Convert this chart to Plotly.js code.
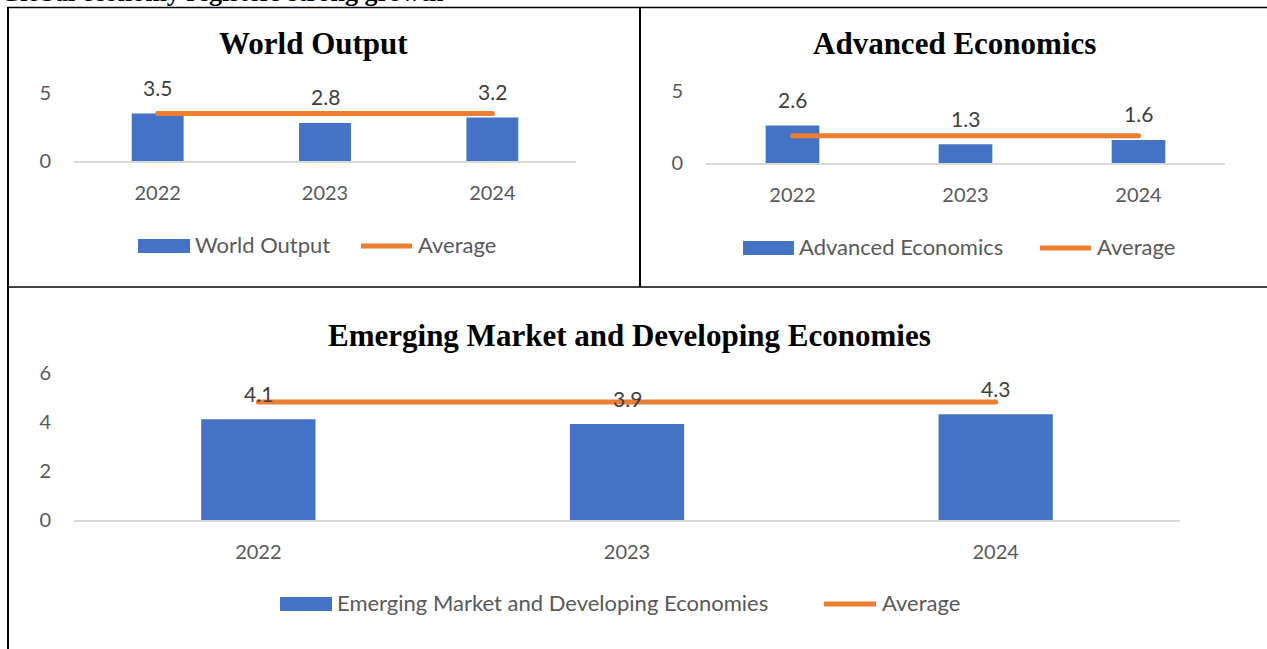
<!DOCTYPE html>
<html><head><meta charset="utf-8">
<script src="https://cdn.plot.ly/plotly-3.0.1.min.js"></script>
<style>
html,body{margin:0;padding:0;background:#fff;}
#wrap{position:relative;width:1267px;height:649px;overflow:hidden;}
#chart{position:absolute;left:0;top:0;width:1267px;height:649px;}
#sup{position:absolute;left:0;top:-20px;font-family:"Liberation Serif";font-weight:bold;font-size:26px;line-height:26px;white-space:nowrap;color:#000;}
path.js-line{stroke-linecap:round !important;}
</style></head>
<body><div id="wrap"><div id="sup">Global economy registers strong growth</div><div id="chart"></div></div>
<script>
// ---- data ----
const years = ['2022', '2023', '2024'];
const worldOutput = [3.5, 2.8, 3.2];
const worldAverage = [3.5, 3.5, 3.5];
const advancedEconomics = [2.6, 1.3, 1.6];
const advancedAverage = [1.9, 1.9, 1.9];
const emergingEconomies = [4.1, 3.9, 4.3];
const emergingAverage = [4.8, 4.8, 4.8];
const worldTicks = [0, 5];
const advancedTicks = [0, 5];
const emergingTicks = [0, 2, 4, 6];
const seriesNames = ['World Output', 'Advanced Economics', 'Emerging Market and Developing Economies'];
const averageName = 'Average';

// ---- layout geometry (page pixels) ----
const W = 1267, H = 649;
const fx = x => x / W, fy = y => 1 - y / H;
const BLUE = '#4472C4', ORANGE = '#ED7D31', TICK = '#595959', LABEL = '#404040';

const panels = [
  {name: seriesNames[0], vals: worldOutput, avg: worldAverage, ticks: worldTicks, grid: false,
   x0: 74, x1: 576, y0: 161, yTop: 93, tickTop: 5, rmax: 5.05,
   titleX: 313, titleY: 43, legY: 246, rect: [138, 190], t1: 195, line: [359, 414], t2: 418},
  {name: seriesNames[1], vals: advancedEconomics, avg: advancedAverage, ticks: advancedTicks, grid: true,
   x0: 706, x1: 1225, y0: 163, yTop: 91, tickTop: 5, rmax: 5.05,
   titleX: 954, titleY: 43, legY: 248, rect: [743, 794], t1: 799, line: [1038, 1093], t2: 1097},
  {name: seriesNames[2], vals: emergingEconomies, avg: emergingAverage, ticks: emergingTicks, grid: false,
   x0: 74, x1: 1180, y0: 520, yTop: 372.5, tickTop: 6, rmax: 6.05,
   titleX: 629, titleY: 335, legY: 604, rect: [280, 332], t1: 337, line: [822, 878], t2: 882}
];

const data = [];
const layout = {
  width: W, height: H, margin: {l: 0, r: 0, t: 0, b: 0},
  paper_bgcolor: 'rgba(0,0,0,0)', plot_bgcolor: 'rgba(0,0,0,0)',
  showlegend: false, bargap: 0.69,
  font: {family: 'Lato', color: TICK, size: 20},
  annotations: [], shapes: []
};

panels.forEach((p, i) => {
  const sfx = i === 0 ? '' : String(i + 1);
  const xa = 'x' + sfx, ya = 'y' + sfx;
  const ppu = (p.y0 - p.yTop) / p.tickTop;
  const topPx = p.y0 - p.rmax * ppu;
  layout['xaxis' + sfx] = {
    domain: [fx(p.x0), fx(p.x1)], anchor: ya, type: 'category',
    categoryorder: 'array', categoryarray: years, range: [-0.5, 2.5],
    showline: true, linecolor: '#D9D9D9', linewidth: 2, showgrid: false, zeroline: false,
    ticks: 'outside', ticklen: 13, tickcolor: 'rgba(0,0,0,0)',
    tickfont: {family: 'Lato', size: 20, color: TICK}, fixedrange: true
  };
  layout['yaxis' + sfx] = {
    domain: [fy(p.y0), fy(topPx)], anchor: xa, range: [0, p.rmax],
    tickmode: 'array', tickvals: p.ticks, ticktext: p.ticks.map(String),
    showgrid: p.grid, gridcolor: '#D9D9D9', gridwidth: 2, zeroline: false, showline: false,
    ticks: 'outside', ticklen: 18, tickcolor: 'rgba(0,0,0,0)',
    tickfont: {family: 'Lato', size: 20, color: TICK}, fixedrange: true
  };
  data.push({type: 'bar', name: p.name, x: years, y: p.vals, xaxis: xa, yaxis: ya,
    marker: {color: BLUE}, width: 0.31, hoverinfo: 'x+y'});
  data.push({type: 'scatter', mode: 'lines', name: averageName, x: years, y: p.avg, xaxis: xa, yaxis: ya,
    line: {color: ORANGE, width: 5}, hoverinfo: 'x+y'});
  // data labels (category index positions on the category axis)
  years.forEach((yr, k) => {
    layout.annotations.push({x: k, y: p.vals[k], xref: xa, yref: ya, text: p.vals[k].toFixed(1),
      showarrow: false, yshift: 26, xanchor: 'center', yanchor: 'middle',
      font: {family: 'Lato', size: 21, color: LABEL}});
  });
  // title
  layout.annotations.push({x: fx(p.titleX), y: fy(p.titleY), xref: 'paper', yref: 'paper', text: '<b>' + p.name + '</b>',
    showarrow: false, xanchor: 'center', yanchor: 'middle',
    font: {family: 'Liberation Serif', size: 31, color: '#000'}});
  // legend
  layout.shapes.push({type: 'rect', xref: 'paper', yref: 'paper', x0: fx(p.rect[0]), x1: fx(p.rect[1]),
    y0: fy(p.legY + 7), y1: fy(p.legY - 7), fillcolor: BLUE, line: {width: 0}});
  layout.shapes.push({type: 'line', xref: 'paper', yref: 'paper', x0: fx(p.line[0] + 2), x1: fx(p.line[1] - 2),
    y0: fy(p.legY), y1: fy(p.legY), line: {color: ORANGE, width: 5}});
  layout.annotations.push({x: fx(p.t1 - 2), y: fy(p.legY - 1.5), xref: 'paper', yref: 'paper', text: p.name,
    showarrow: false, xanchor: 'left', yanchor: 'middle', font: {family: 'Lato', size: 22, color: TICK}});
  layout.annotations.push({x: fx(p.t2 - 2), y: fy(p.legY - 1.5), xref: 'paper', yref: 'paper', text: averageName,
    showarrow: false, xanchor: 'left', yanchor: 'middle', font: {family: 'Lato', size: 22, color: TICK}});
});

// table borders
const border = (x0, y0, x1, y1, w) => layout.shapes.push({type: 'line', xref: 'paper', yref: 'paper',
  x0: fx(x0), y0: fy(y0), x1: fx(x1), y1: fy(y1), line: {color: '#000', width: w}});
border(7, 7.5, 1267, 7.5, 1.5);
border(8, 7, 8, 649, 2);
border(640, 7, 640, 287, 2);
border(7, 287, 1267, 287, 1.5);

Plotly.newPlot('chart', data, layout, {displayModeBar: false, staticPlot: true});
</script>
</body></html>
